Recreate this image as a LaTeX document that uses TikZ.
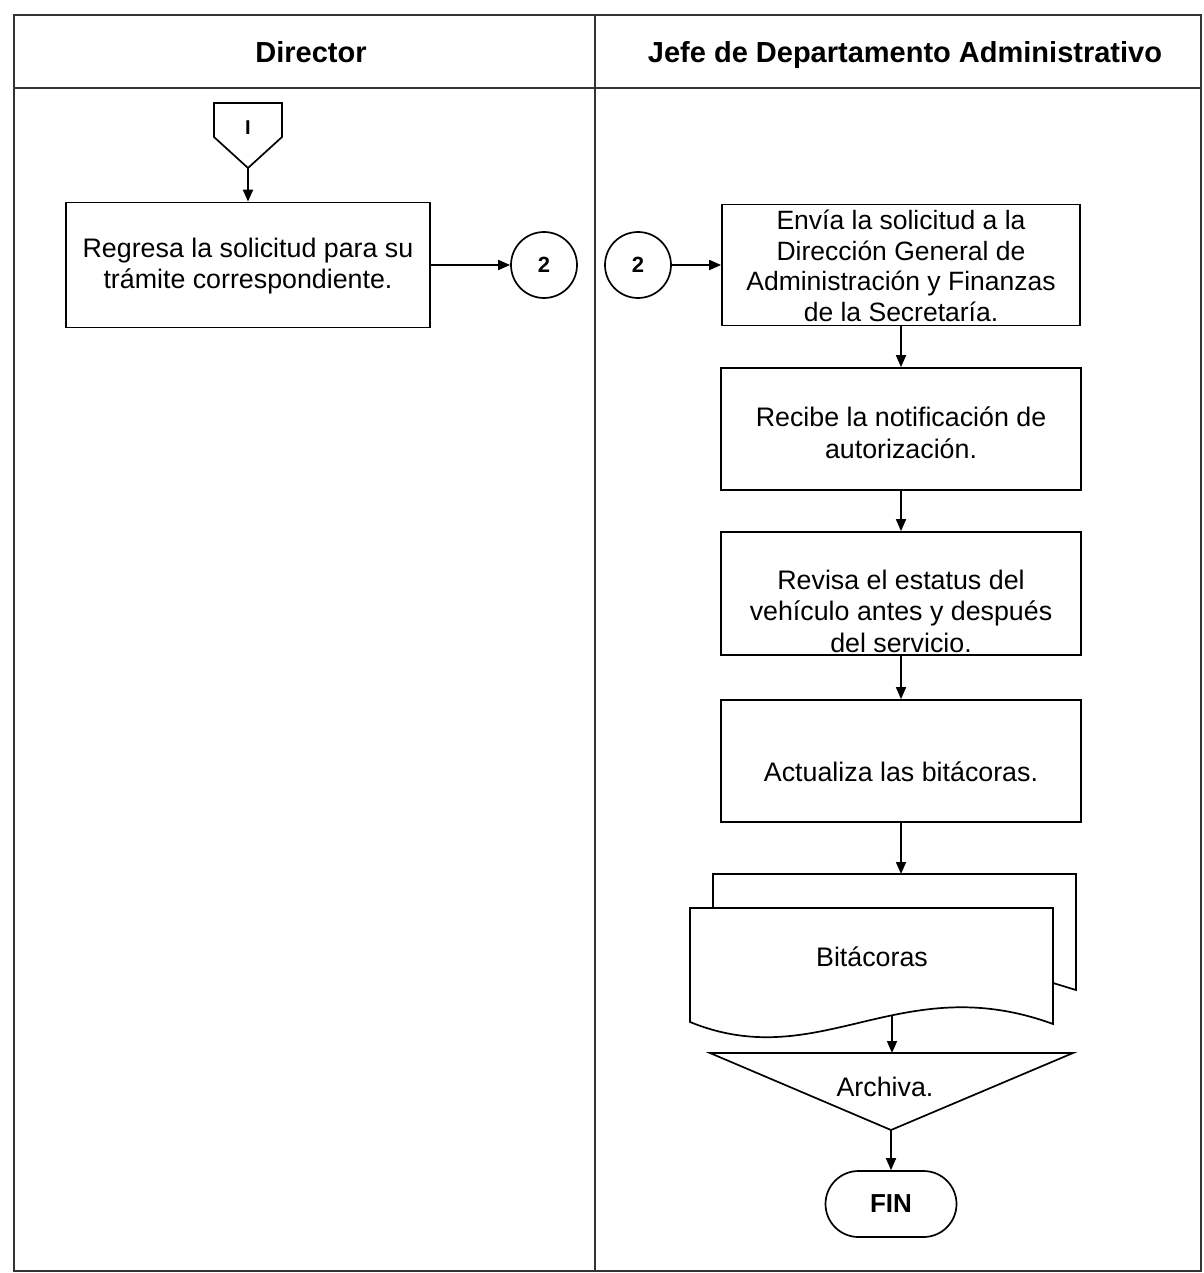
\documentclass[tikz,border=0pt]{standalone}
\usepackage{fontspec}
\setmainfont{Liberation Sans}
\usetikzlibrary{arrows.meta,shapes.misc}

\begin{document}
\begin{tikzpicture}[x=1pt,y=-1pt,
  line width=1.7pt,
  lane/.style={line width=1.8pt, draw=black!80},
  proc/.style={draw, minimum width=360pt, minimum height=122pt, inner sep=0pt},
  txt/.style={align=center, font=\fontsize{26.8}{31.5}\selectfont, inner sep=0pt},
  head/.style={font=\bfseries\fontsize{29}{33}\selectfont, anchor=base, inner sep=0pt},
  conn/.style={draw, circle, minimum size=66pt, inner sep=0pt, font=\bfseries\fontsize{22}{26}\selectfont},
  flow/.style={-{Triangle[length=12pt,width=10pt]}, line width=1.7pt},
]
\useasboundingbox (0,0) rectangle (1203,1273);

% swimlane frame
\draw[lane] (14,15) rectangle (1201,1271);
\draw[lane] (14,88) -- (1201,88);
\draw[lane] (595,15) -- (595,1271);
\node[head] (hdir) at (311,63) {Director};
\node[head] (hjefe) at (905,63) {Jefe de Departamento Administrativo};

% off-page connector
\draw (214,103) -- (282,103) -- (282,137) -- (248,168) -- (214,137) -- cycle;
\node[head, font=\bfseries\fontsize{20}{24}\selectfont] (offI) at (248,135) {I};
\coordinate (offtip) at (248,168);

% Director lane
\node[proc, minimum width=364pt, minimum height=125pt] (b1) at (248,265) {};
\node[txt] (t1) at (248,266) {Regresa la solicitud para su\\trámite correspondiente.};
\node[conn] (c1) at (544,265) {2};

% Jefe lane
\node[conn] (c2) at (638,265) {2};
\node[proc, minimum width=358pt, minimum height=121pt] (b2) at (901,265) {};
\node[txt, font=\fontsize{26.5}{30.5}\selectfont] (t2) at (901,266) {Envía la solicitud a la\\Dirección General de\\Administración y Finanzas\\de la Secretaría.};

\node[proc] (b3) at (901,429) {};
\node[txt] (t3) at (901,433) {Recibe la notificación de\\autorización.};

\node[proc, minimum height=123pt] (b4) at (901,593.5) {};
\node[txt] (t4) at (901,611) {Revisa el estatus del\\vehículo antes y después\\del servicio.};

\node[proc] (b5) at (901,761) {};
\node[txt, anchor=base] (t5) at (901,781) {Actualiza las bitácoras.};

% multiple documents
\draw (1053,983) -- (1076,990) -- (1076,874) -- (713,874) -- (713,908);
\draw[fill=white] (690,908) -- (1053,908) -- (1053,1024)
  .. controls (900,968) and (820,1075) .. (690,1022) -- cycle;
\node[txt, anchor=base] (bit) at (872,966) {Bitácoras};
\coordinate (doctop) at (901,874);
\coordinate (docbot) at (892,1015);

% archive
\draw (710,1053) -- (1073,1053) -- (891,1130) -- cycle;
\node[txt, anchor=base] (arch) at (885,1096) {Archiva.};
\coordinate (tritop) at (892,1053);
\coordinate (tritip) at (891,1130);

% terminator
\node[draw, rounded rectangle, minimum width=131pt, minimum height=66pt, inner sep=0pt,
      font=\bfseries\fontsize{26}{30}\selectfont] (fin) at (891,1204) {FIN};

% connectors
\draw[flow] (offtip) -- (b1.north);
\draw[flow] (b1.east) -- (c1.west);
\draw[flow] (c2.east) -- (b2.west);
\draw[flow] (b2.south) -- (b3.north);
\draw[flow] (b3.south) -- (b4.north);
\draw[flow] (b4.south) -- (b5.north);
\draw[flow] (b5.south) -- (doctop);
\draw[flow] (docbot) -- (tritop);
\draw[flow] (tritip) -- (fin.north);
\end{tikzpicture}
\end{document}
